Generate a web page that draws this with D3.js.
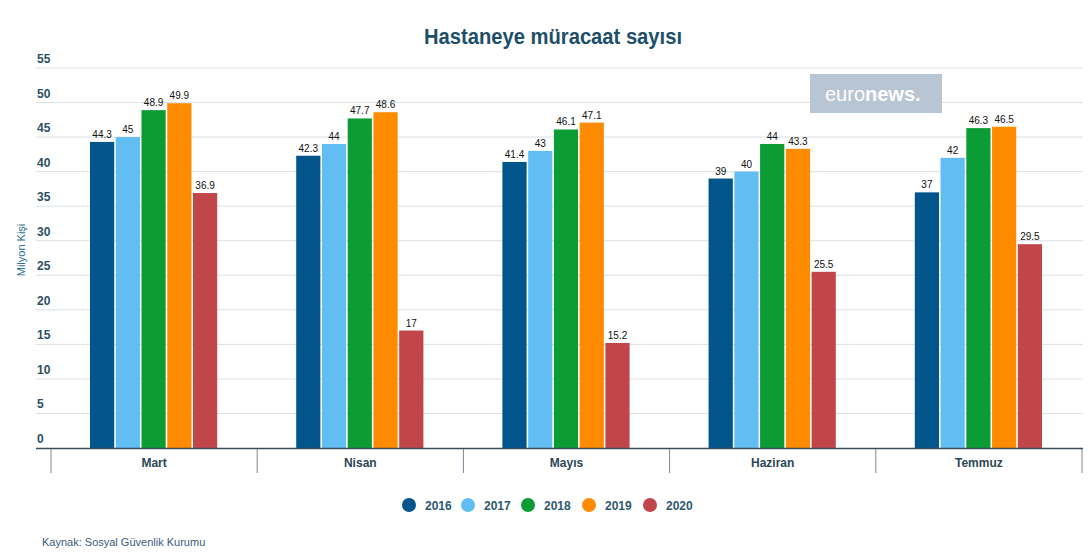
<!DOCTYPE html>
<html>
<head>
<meta charset="utf-8">
<script src="https://cdn.jsdelivr.net/npm/d3@7"></script>
<style>
  body { margin: 0; background: #fff; }
  svg { display: block; font-family: "Liberation Sans", Arial, sans-serif; }
</style>
</head>
<body>
<script>
// chart data
const months = ["Mart", "Nisan", "Mayıs", "Haziran", "Temmuz"];
const years = ["2016", "2017", "2018", "2019", "2020"];
const values2016 = [44.3, 42.3, 41.4, 39, 37];
const values2017 = [45, 44, 43, 40, 42];
const values2018 = [48.9, 47.7, 46.1, 44, 46.3];
const values2019 = [49.9, 48.6, 47.1, 43.3, 46.5];
const values2020 = [36.9, 17, 15.2, 25.5, 29.5];
const yTicks = [0, 5, 10, 15, 20, 25, 30, 35, 40, 45, 50, 55];
const colors = ["#02558b", "#62bdf2", "#0b9c35", "#ff8b00", "#c0464a"];

const series = [values2016, values2017, values2018, values2019, values2020];

const width = 1091, height = 558;
const svg = d3.select("body").append("svg")
  .attr("width", width).attr("height", height);

const x = d3.scaleBand().domain(months).range([51, 1082]);
const xInner = d3.scaleBand().domain(years)
  .range([39, x.bandwidth() - 40]).paddingInner(0.06);
const y = d3.scaleLinear().domain([0, 55]).range([448, 68]);

// title
svg.append("text")
  .attr("x", 553).attr("y", 44)
  .attr("text-anchor", "middle")
  .attr("textLength", 258).attr("lengthAdjust", "spacingAndGlyphs")
  .style("font-size", "22px").style("font-weight", "bold")
  .style("fill", "#1d4f6a")
  .text("Hastaneye müracaat sayısı");

// gridlines + y labels
const grid = svg.append("g");
grid.selectAll("line").data(yTicks.filter(d => d > 0)).enter().append("line")
  .attr("x1", 36).attr("x2", 1083)
  .attr("y1", d => y(d)).attr("y2", d => y(d))
  .attr("stroke", "#d9e1e7").attr("stroke-width", 1);
grid.selectAll("text").data(yTicks).enter().append("text")
  .attr("x", 37).attr("y", d => y(d) - 5)
  .style("font-size", "12px").style("font-weight", "bold")
  .style("fill", "#2d5064")
  .text(d => d);

// y axis title
svg.append("text")
  .attr("transform", "translate(25,250) rotate(-90)")
  .attr("text-anchor", "middle")
  .style("font-size", "11px").style("fill", "#2a6f90")
  .text("Milyon Kişi");

// bars
const groups = svg.selectAll("g.month").data(months).enter().append("g")
  .attr("class", "month")
  .attr("transform", d => `translate(${x(d)},0)`);

groups.each(function (m, i) {
  const g = d3.select(this);
  const vals = series.map((s, k) => ({ year: years[k], v: s[i], c: colors[k] }));
  g.selectAll("rect").data(vals).enter().append("rect")
    .attr("x", d => xInner(d.year))
    .attr("y", d => y(d.v))
    .attr("width", xInner.bandwidth())
    .attr("height", d => y(0) - y(d.v))
    .attr("fill", d => d.c);
  g.selectAll("text").data(vals).enter().append("text")
    .attr("x", d => xInner(d.year) + xInner.bandwidth() / 2)
    .attr("y", d => y(d.v) - 4)
    .attr("text-anchor", "middle")
    .style("font-size", "10px").style("fill", "#111")
    .text(d => d.v);
});

// x axis
const xAxis = svg.append("g");
xAxis.append("line")
  .attr("x1", 36).attr("x2", 1083).attr("y1", 448.5).attr("y2", 448.5)
  .attr("stroke", "#3b4d5c").attr("stroke-width", 1.5);
const bounds = months.map(m => x(m)).concat([x.range()[1]]);
xAxis.selectAll("line.tick").data(bounds).enter().append("line")
  .attr("class", "tick")
  .attr("x1", d => d).attr("x2", d => d)
  .attr("y1", 449).attr("y2", 473)
  .attr("stroke", "#7a8894").attr("stroke-width", 1);
xAxis.selectAll("text").data(months).enter().append("text")
  .attr("x", d => x(d) + x.bandwidth() / 2).attr("y", 467)
  .attr("text-anchor", "middle")
  .style("font-size", "12px").style("font-weight", "bold")
  .style("fill", "#2d4656")
  .text(d => d);

// legend
const legendX = [409, 468, 528, 589, 650];
const legend = svg.selectAll("g.legend").data(years).enter().append("g")
  .attr("class", "legend")
  .attr("transform", (d, i) => `translate(${legendX[i]},505)`);
legend.append("circle").attr("r", 7).attr("fill", (d, i) => colors[i]);
legend.append("text")
  .attr("x", 16).attr("y", 5)
  .style("font-size", "12px").style("font-weight", "bold")
  .style("fill", "#2d5a6e")
  .text(d => d);

// source
svg.append("text")
  .attr("x", 42).attr("y", 546)
  .style("font-size", "11px").style("fill", "#3b5b78")
  .text("Kaynak: Sosyal Güvenlik Kurumu");

// euronews watermark
const logo = svg.append("g").attr("transform", "translate(810,74)");
logo.append("rect").attr("width", 132).attr("height", 39).attr("fill", "#b8c5d3");
const lt = logo.append("text").attr("x", 15).attr("y", 27)
  .style("font-size", "20px").style("fill", "#fff");
lt.append("tspan").style("font-weight", "normal").text("euro");
lt.append("tspan").style("font-weight", "bold").text("news.");
</script>
</body>
</html>
